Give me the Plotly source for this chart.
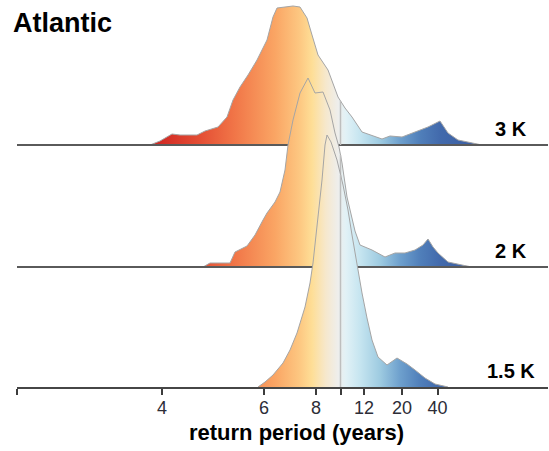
import plotly.graph_objects as go

# ---- data (x in axis position units, heights = density in px-like units) ----
tick_pos = [17, 162, 264, 316, 340.5, 364, 402, 437.5]
tick_text = ["", "4", "6", "8", "", "12", "20", "40"]
ten_year_pos = 340.5

x_3k = [150, 160, 172, 180, 197, 205, 218, 227, 233, 240, 248, 257, 267, 273, 277, 285, 293, 300,
        307, 312, 318, 328, 338, 345, 352, 362, 375, 382, 390, 402, 415, 428, 440, 448, 458, 472, 482]
h_3k = [0, 4, 11, 10, 10, 14, 18, 28, 45, 58, 70, 85, 105, 128, 137, 138, 139, 138,
        127, 110, 90, 75, 48, 37, 28, 13, 8, 6, 9, 8, 13, 18, 24, 12, 5, 2, 0]

x_2k = [203, 210, 230, 235, 247, 255, 263, 267, 275, 280, 285, 288, 293, 300, 308, 315, 323, 330,
        335, 339, 342, 347, 355, 360, 372, 385, 395, 405, 415, 423, 428, 433, 438, 448, 462, 472]
h_2k = [0, 4, 4, 15, 21, 32, 47, 54, 65, 75, 97, 122, 147, 174, 189, 174, 175, 157,
        134, 120, 104, 70, 36, 22, 17, 10, 14, 14, 17, 22, 28, 20, 14, 5, 2, 0]

x_15k = [258, 265, 273, 283, 290, 297, 305, 310, 313, 318, 322, 325, 327, 331, 337, 343, 348, 352,
         357, 362, 367, 372, 378, 387, 397, 407, 415, 425, 435, 448]
h_15k = [0, 5, 12, 24, 37, 54, 80, 104, 124, 167, 207, 242, 252, 245, 227, 202, 177, 152,
         122, 94, 69, 47, 30, 22, 29, 23, 17, 9, 3, 0]

labels = ["3 K", "2 K", "1.5 K"]
offsets = [242, 120, 0]
series_x = [x_3k, x_2k, x_15k]
series_h = [h_3k, h_2k, h_15k]

grad_pos = [150, 160, 200, 235, 275, 300, 312, 326, 338, 346, 360, 380, 400, 420, 440, 480]
grad_col = ["rgb(205,38,33)", "rgb(210,42,36)", "rgb(228,78,52)", "rgb(241,118,72)",
            "rgb(250,165,100)", "rgb(253,200,130)", "rgb(254,222,150)", "rgb(246,232,205)",
            "rgb(238,238,236)", "rgb(225,241,246)", "rgb(198,229,240)", "rgb(158,203,225)",
            "rgb(110,160,205)", "rgb(80,127,186)", "rgb(66,106,172)", "rgb(58,92,160)"]

X0, X1 = 17, 548
Y1 = 387
g0, g1 = grad_pos[0], grad_pos[-1]
colorscale = [[(p - g0) / (g1 - g0), c] for p, c in zip(grad_pos, grad_col)]

fig = go.Figure()
for lab, off, xs, hs in zip(labels, offsets, series_x, series_h):
    ys = [off + h for h in hs]
    fig.add_trace(go.Scatter(
        x=xs, y=ys, mode="lines", fill="toself",
        fillgradient=dict(type="horizontal", colorscale=colorscale, start=g0, stop=g1),
        line=dict(color="rgb(165,165,165)", width=1), hoverinfo="skip", showlegend=False))
    if off > 0:
        fig.add_trace(go.Scatter(x=[X0, X1], y=[off, off], mode="lines",
                                 line=dict(color="rgb(90,90,90)", width=2),
                                 hoverinfo="skip", showlegend=False))
    top = None
    for i in range(len(xs) - 1):
        if xs[i] <= ten_year_pos <= xs[i + 1]:
            t = (ten_year_pos - xs[i]) / (xs[i + 1] - xs[i])
            top = hs[i] + t * (hs[i + 1] - hs[i])
    fig.add_trace(go.Scatter(x=[ten_year_pos, ten_year_pos], y=[off, off + top], mode="lines",
                             line=dict(color="rgb(190,190,190)", width=1.5),
                             hoverinfo="skip", showlegend=False))
    fig.add_annotation(x=511, y=off + 16, xref="x", yref="y", text="<b>%s</b>" % lab,
                       showarrow=False, font=dict(size=20, color="black", family="Liberation Sans"),
                       xanchor="center", yanchor="middle")

fig.add_annotation(x=(11 - X0) / (X1 - X0), y=(Y1 - 6) / Y1, xref="paper", yref="paper",
                   text="<b>Atlantic</b>", showarrow=False,
                   font=dict(size=27, color="black", family="Liberation Sans"),
                   xanchor="left", yanchor="top")
fig.add_annotation(x=(296 - X0) / (X1 - X0), y=-45 / Y1, xref="paper", yref="paper",
                   text="<b>return period (years)</b>", showarrow=False,
                   font=dict(size=22, color="black", family="Liberation Sans"),
                   xanchor="center", yanchor="middle")

fig.update_layout(
    width=549, height=451,
    margin=dict(l=17, r=1, t=0, b=64),
    paper_bgcolor="white", plot_bgcolor="white",
    xaxis=dict(range=[X0, X1], tickvals=tick_pos, ticktext=tick_text, showgrid=False,
               zeroline=False, showline=True, linecolor="rgb(70,70,70)", linewidth=2,
               ticks="outside", ticklen=6, tickwidth=1.5, tickcolor="rgb(60,60,60)",
               ticklabelstandoff=-3,
               tickfont=dict(size=18, color="rgb(45,45,55)", family="Liberation Sans"),
               fixedrange=True, automargin=False),
    yaxis=dict(range=[0, Y1], visible=False, fixedrange=True, automargin=False),
)
fig.write_html("out.html")
